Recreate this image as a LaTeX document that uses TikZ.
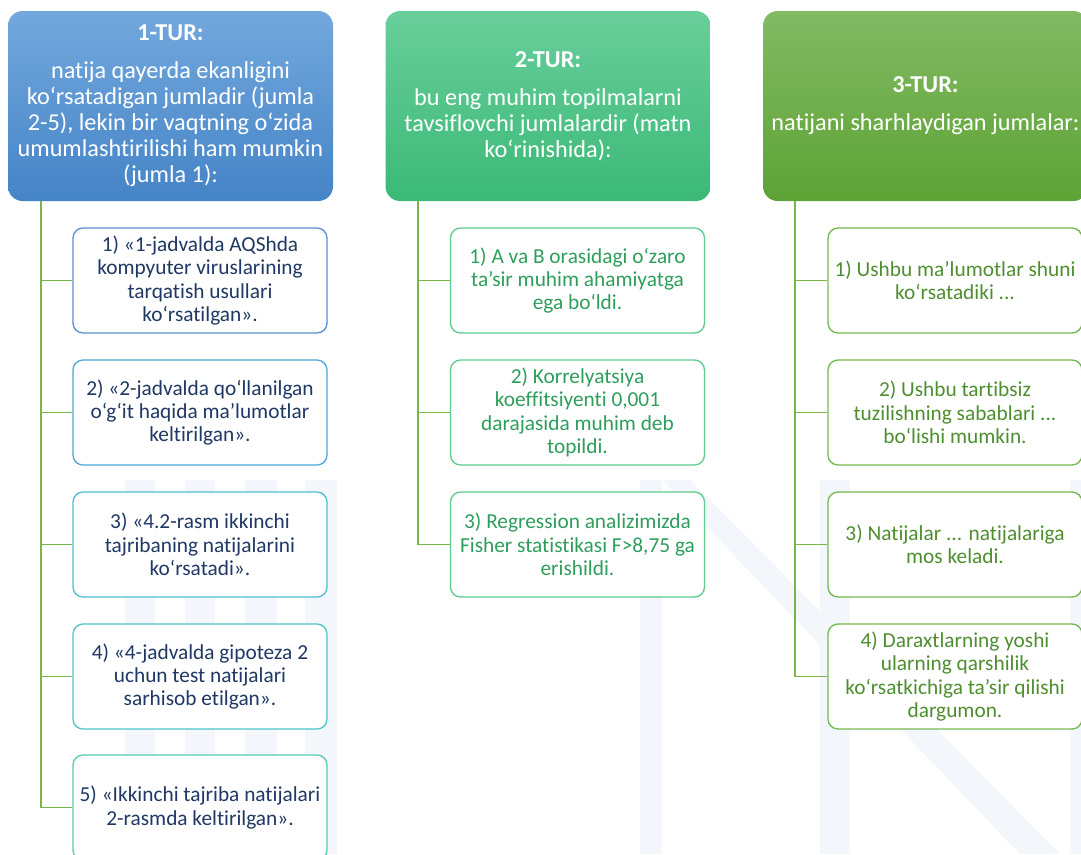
\documentclass[tikz,border=0pt]{standalone}
\usepackage{fontspec}
\setmainfont{Carlito}[Ligatures={NoCommon}]
\definecolor{wm}{HTML}{F3F6FA}
\definecolor{conn}{HTML}{79B64A}
\definecolor{hAtop}{HTML}{73A8DD}
\definecolor{hAbot}{HTML}{4584C7}
\definecolor{hBtop}{HTML}{69CE9B}
\definecolor{hBbot}{HTML}{3BB977}
\definecolor{hCtop}{HTML}{83BA64}
\definecolor{hCbot}{HTML}{5DA335}
\definecolor{navy}{HTML}{1F3864}
\definecolor{txtB}{HTML}{2E9E5C}
\definecolor{txtC}{HTML}{4F8E30}
\definecolor{bA1}{HTML}{5A8FD0}
\definecolor{bA2}{HTML}{4DA7DA}
\definecolor{bA3}{HTML}{4EBDD6}
\definecolor{bA4}{HTML}{4DC6C8}
\definecolor{bA5}{HTML}{55CBB4}
\definecolor{bB}{HTML}{5ECB8F}
\definecolor{bC}{HTML}{74B94F}
\tikzset{
  head/.style={rounded corners=11pt, minimum width=243.75pt, minimum height=142.5pt,
    align=center, text=white, inner sep=0pt, font=\fontsize{18.2}{19.5}\selectfont},
  child/.style={draw, line width=1pt, fill=white, rounded corners=7.5pt, minimum width=190.5pt,
    minimum height=78.75pt, align=center, inner sep=0pt, font=\fontsize{16}{17.6}\selectfont},
  conline/.style={draw=conn, line width=1.1pt},
}
\begin{document}
\begin{tikzpicture}[x=0.75pt,y=-0.75pt]
\useasboundingbox (0,0) rectangle (1081,854);
\clip (0,0) rectangle (1081,854);
\fill[white] (0,0) rectangle (1081,854);
% faint watermark
\fill[wm] (125,480) rectangle (155,854);
\fill[wm] (185,480) rectangle (215,854);
\fill[wm] (245,480) rectangle (277,854);
\fill[wm] (305,480) rectangle (337,854);
\fill[wm] (640,480) rectangle (662,854);
\fill[wm] (662,480) -- (690,480) -- (1060,854) -- (1020,854) -- cycle;
\fill[wm] (820,480) rectangle (850,854);
\fill[wm] (1070,480) rectangle (1081,854);

% headers
\node[head, top color=hAtop, bottom color=hAbot] (h1) at (170.5,106)
  {\textbf{1-TUR:}\\[9pt]natija qayerda ekanligini\\ko‘rsatadigan jumladir (jumla\\2-5), lekin bir vaqtning o‘zida\\umumlashtirilishi ham mumkin\\(jumla 1):};
\node[head, top color=hBtop, bottom color=hBbot] (h2) at (548,106)
  {\textbf{2-TUR:}\\[9pt]bu eng muhim topilmalarni\\tavsiflovchi jumlalardir (matn\\ko‘rinishida):};
\node[head, top color=hCtop, bottom color=hCbot] (h3) at (925.5,106)
  {\textbf{3-TUR:}\\[9pt]natijani sharhlaydigan jumlalar:};

% column 1
\begin{scope}[every node/.append style={text=navy}]
\node[child, draw=bA1] (a1) at (200,280.5) {1) «1-jadvalda AQShda\\kompyuter viruslarining\\tarqatish usullari\\ko‘rsatilgan».};
\node[child, draw=bA2] (a2) at (200,412.5) {2) «2-jadvalda qo‘llanilgan\\o‘g‘it haqida ma’lumotlar\\keltirilgan».};
\node[child, draw=bA3] (a3) at (200,544.5) {3) «4.2-rasm ikkinchi\\tajribaning natijalarini\\ko‘rsatadi».};
\node[child, draw=bA4] (a4) at (200,676.5) {4) «4-jadvalda gipoteza 2\\uchun test natijalari\\sarhisob etilgan».};
\node[child, draw=bA5] (a5) at (200,807.5) {5) «Ikkinchi tajriba natijalari\\2-rasmda keltirilgan».};
\end{scope}

% column 2
\begin{scope}[every node/.append style={text=txtB, draw=bB}]
\node[child] (b1) at (577.5,280.5) {1) A va B orasidagi o‘zaro\\ta’sir muhim ahamiyatga\\ega bo‘ldi.};
\node[child] (b2) at (577.5,412.5) {2) Korrelyatsiya\\koeffitsiyenti 0,001\\darajasida muhim deb\\topildi.};
\node[child] (b3) at (577.5,544.5) {3) Regression analizimizda\\Fisher statistikasi F>8,75 ga\\erishildi.};
\end{scope}

% column 3
\begin{scope}[every node/.append style={text=txtC, draw=bC}]
\node[child] (c1) at (955,280.5) {1) Ushbu ma’lumotlar shuni\\ko‘rsatadiki ...};
\node[child] (c2) at (955,412.5) {2) Ushbu tartibsiz\\tuzilishning sabablari ...\\bo‘lishi mumkin.};
\node[child] (c3) at (955,544.5) {3) Natijalar ... natijalariga\\mos keladi.};
\node[child] (c4) at (955,676.5) {4) Daraxtlarning yoshi\\ularning qarshilik\\ko‘rsatkichiga ta’sir qilishi\\dargumon.};
\end{scope}

% connectors
\coordinate (t1) at (41,201);
\coordinate (t2) at (418,201);
\coordinate (t3) at (795,201);
\draw[conline] (t1) |- (a5.west);
\foreach \n in {a1,a2,a3,a4} \draw[conline] (t1 |- \n.west) -- (\n.west);
\draw[conline] (t2) |- (b3.west);
\foreach \n in {b1,b2} \draw[conline] (t2 |- \n.west) -- (\n.west);
\draw[conline] (t3) |- (c4.west);
\foreach \n in {c1,c2,c3} \draw[conline] (t3 |- \n.west) -- (\n.west);
\end{tikzpicture}
\end{document}
